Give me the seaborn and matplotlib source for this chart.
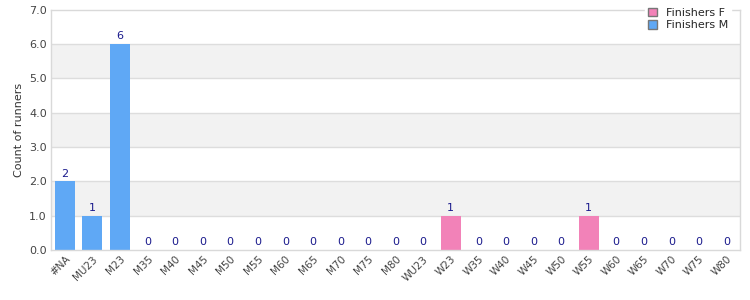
import matplotlib
matplotlib.use("Agg")
import matplotlib.pyplot as plt
import seaborn as sns
import pandas as pd
from matplotlib.patches import Patch

categories = ["#NA", "MU23", "M23", "M35", "M40", "M45", "M50", "M55", "M60", "M65",
              "M70", "M75", "M80", "WU23", "W23", "W35", "W40", "W45", "W50", "W55",
              "W60", "W65", "W70", "W75", "W80"]
values = [2, 1, 6, 0, 0, 0, 0, 0, 0, 0, 0, 0, 0, 0, 1, 0, 0, 0, 0, 1, 0, 0, 0, 0, 0]
series = ["Finishers M"] * 13 + ["Finishers F"] * 12
y_ticks = [0, 1, 2, 3, 4, 5, 6, 7]

colors = {"Finishers F": "#f282b8", "Finishers M": "#5fa8f5"}

df = pd.DataFrame({"category": categories, "value": values, "series": series})

sns.set_style("white")
fig = plt.figure(figsize=(7.5, 3), dpi=100)
ax = fig.add_axes([0.068, 0.167, 0.919, 0.8])

for i in range(len(y_ticks) - 1):
    if i % 2 == 1:
        ax.axhspan(y_ticks[i], y_ticks[i + 1], color="#f2f2f2", zorder=0, lw=0)
for t in y_ticks[1:-1]:
    ax.axhline(t, color="#dddddd", lw=1, zorder=0.5)

sns.barplot(data=df, x="category", y="value", hue="series", dodge=False,
            palette=colors, width=0.72, ax=ax, legend=False, zorder=2,
            saturation=1, linewidth=0, edgecolor="none",
            order=categories, hue_order=["Finishers F", "Finishers M"])

for c in ax.containers:
    labels = ["%d" % v if v == v else "" for v in c.datavalues]
    ax.bar_label(c, labels=labels, padding=2, color="#1a1a8c", fontsize=8)

ax.set_ylim(0, 7)
ax.set_xlim(-0.5, len(categories) - 0.5)
ax.set_yticks(y_ticks)
ax.set_yticklabels(["%.1f" % t for t in y_ticks], color="#444444", fontsize=8)
ax.set_xticks(range(len(categories)))
ax.set_xticklabels(categories, rotation=45, ha="right", rotation_mode="anchor",
                   color="#444444", fontsize=7.5)
ax.tick_params(axis="both", length=0, pad=3)
ax.set_xlabel("")
ax.set_ylabel("Count of runners", fontsize=8, color="#333333")
for s in ax.spines.values():
    s.set_color("#d9d9d9")
    s.set_linewidth(1)

handles = [Patch(facecolor=colors["Finishers F"], edgecolor="#777777", label="Finishers F"),
           Patch(facecolor=colors["Finishers M"], edgecolor="#777777", label="Finishers M")]
leg = ax.legend(handles=handles, loc="upper right", bbox_to_anchor=(0.995, 1.045),
                frameon=True, fontsize=8, handlelength=0.8, handleheight=0.8,
                handletextpad=0.8, labelspacing=0.2, borderpad=0.3)
leg.get_frame().set_edgecolor("white")
leg.get_frame().set_facecolor("white")
leg.get_frame().set_alpha(1)
leg.get_frame().set_boxstyle("square", pad=0)
leg.set_zorder(5)

fig.savefig("out.png", dpi=100)
